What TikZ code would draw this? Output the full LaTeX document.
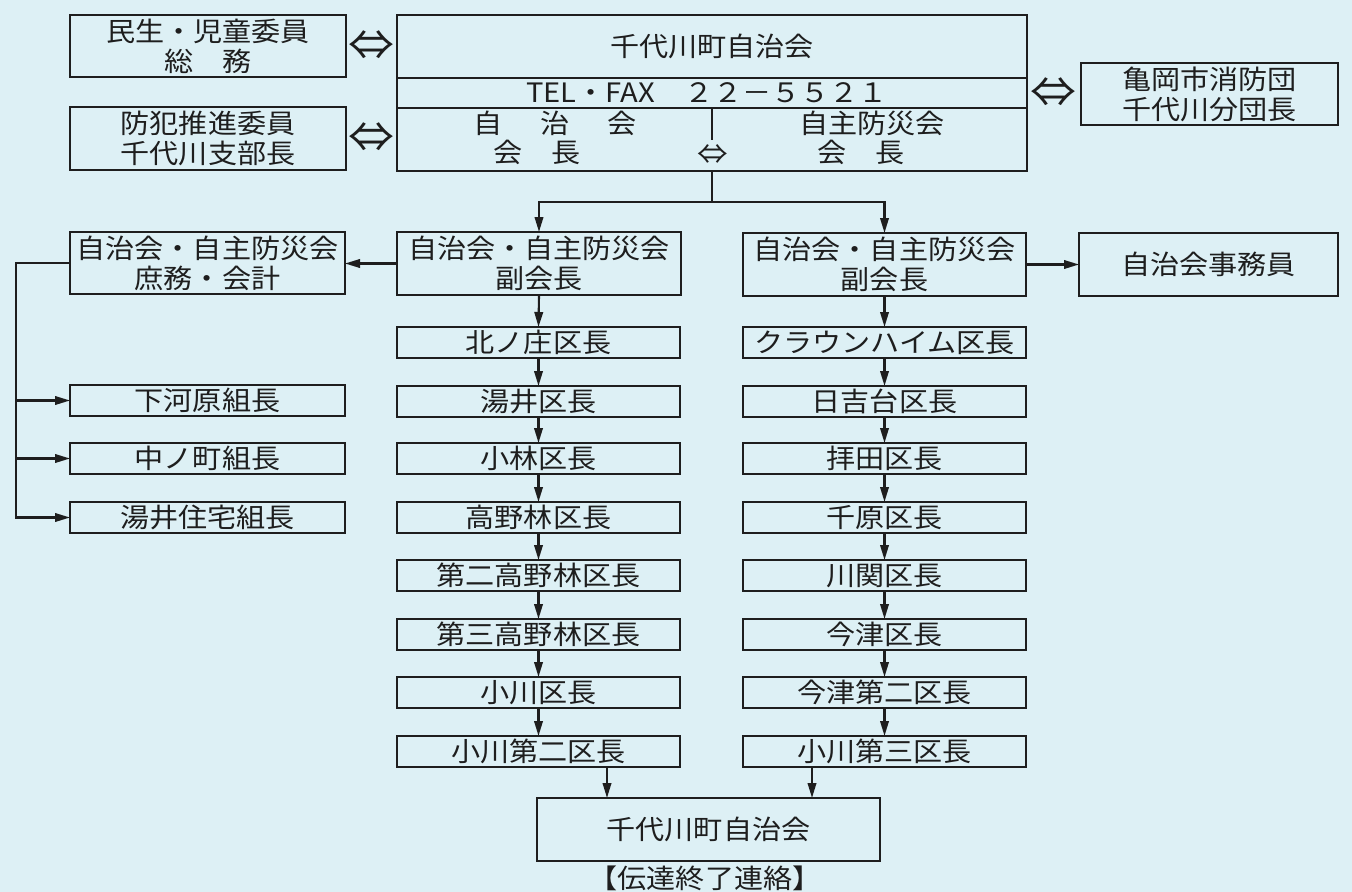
\documentclass[tikz,border=0pt]{standalone}
\usepackage{fontspec}
\setmainfont[FakeStretch=1.09]{Noto Sans CJK JP}
\usetikzlibrary{arrows.meta}
\definecolor{bg}{HTML}{DDF0F5}
\definecolor{ink}{HTML}{1E1E1E}
\newcommand\bxnode[6]{%
 \pgfmathsetmacro\bxcx{(#2+#4)/2}%
 \pgfmathsetmacro\bxcy{(#3+#5)/2}%
 \pgfmathsetmacro\bxw{(#4-#2)*0.02}%
 \pgfmathsetmacro\bxh{(#5-#3)*0.02}%
 \node[bx,minimum width=\bxw cm,minimum height=\bxh cm] (#1) at (\bxcx,\bxcy) {#6};}
\begin{document}
\begin{tikzpicture}[x=0.02cm,y=-0.02cm,
  bx/.style={draw=ink,line width=1.3pt,inner sep=0pt,outer sep=0pt,align=center,text=ink,font=\fontsize{15.2}{17}\selectfont},
  ln/.style={draw=ink,line width=1.2pt},
  arr/.style={ln,-{Triangle[length=3mm,width=1.7mm]}},
  dbl/.style={text=ink,font=\fontsize{24}{24}\selectfont,inner sep=0pt},
  lbl/.style={text=ink,font=\fontsize{15.2}{17}\selectfont,inner sep=0pt}]
\fill[bg] (0,0) rectangle (1352,892);
\useasboundingbox (0,0) rectangle (1352,892);
% top row
\bxnode{A}{70}{15}{346}{77}{民生・児童委員\\総　務}
\bxnode{B}{70}{107}{346}{170}{防犯推進委員\\千代川支部長}
\bxnode{M}{397}{15}{1027}{171}{}
\bxnode{C}{1081}{63}{1338}{125}{亀岡市消防団\\千代川分団長}
\coordinate (m1) at (0,78);
\coordinate (m2) at (0,108);
\draw[ln,line width=1.3pt] (M.west |- m1) -- (M.east |- m1);
\draw[ln,line width=1.3pt] (M.west |- m2) -- (M.east |- m2);
\node[lbl] (mt) at (712,46) {千代川町自治会};
\node[lbl] (mtel) at (707,93) {TEL・FAX　２２－５５２１};
\node[lbl] (ml1) at (555,123) {自\hspace{0.76cm}治\hspace{0.76cm}会};
\node[lbl] (ml2) at (537,152) {会　長};
\node[lbl] (mr1) at (872,123) {自主防災会};
\node[lbl] (mr2) at (861,152) {会　長};
\node[dbl,font=\fontsize{16}{16}\selectfont] (md) at (713,155) {⇔};
\coordinate (mv) at (712,108);
\draw[ln] (mv) -- ++(0,32);
\node[dbl] (dA) at (371,46) {⇔};
\node[dbl] (dB) at (371,138) {⇔};
\node[dbl] (dC) at (1053,93) {⇔};
% second level
\bxnode{D}{70}{232}{345}{294}{自治会・自主防災会\\庶務・会計}
\bxnode{E}{397}{232}{681}{295}{自治会・自主防災会\\副会長}
\bxnode{F}{743}{233}{1026}{296}{自治会・自主防災会\\副会長}
\bxnode{G}{1079}{233}{1338}{296}{自治会事務員}
% left column
\bxnode{L1}{397}{327}{680}{358}{北ノ庄区長}
\bxnode{L2}{397}{386}{680}{417}{湯井区長}
\bxnode{L3}{397}{443}{680}{474}{小林区長}
\bxnode{L4}{397}{502}{680}{533}{高野林区長}
\bxnode{L5}{397}{560}{680}{591}{第二高野林区長}
\bxnode{L6}{397}{619}{680}{650}{第三高野林区長}
\bxnode{L7}{397}{677}{680}{708}{小川区長}
\bxnode{L8}{397}{736}{680}{767}{小川第二区長}
% right column
\bxnode{R1}{743}{327}{1026}{358}{クラウンハイム区長}
\bxnode{R2}{743}{386}{1026}{417}{日吉台区長}
\bxnode{R3}{743}{443}{1026}{474}{拝田区長}
\bxnode{R4}{743}{502}{1026}{533}{千原区長}
\bxnode{R5}{743}{560}{1026}{591}{川関区長}
\bxnode{R6}{743}{619}{1026}{650}{今津区長}
\bxnode{R7}{743}{677}{1026}{708}{今津第二区長}
\bxnode{R8}{743}{736}{1026}{767}{小川第三区長}
% left small boxes
\bxnode{K1}{70}{385}{345}{416}{下河原組長}
\bxnode{K2}{70}{443}{345}{474}{中ノ町組長}
\bxnode{K3}{70}{502}{345}{533}{湯井住宅組長}
% bottom
\bxnode{Z}{537}{798}{880}{861}{千代川町自治会}
\node[lbl] (cap) at (705,878) {【伝達終了連絡】};
% connectors
\coordinate (sp) at (712,202);
\draw[ln] (M.south) -- (sp);
\draw[arr] (sp) -| (E.north);
\draw[arr] (sp) -| (F.north);
\draw[arr] (E.west) -- (E.west -| D.east);
\draw[arr] (F.east) -- (F.east -| G.west);
\coordinate (lt) at (16,263);
\draw[arr] (D.west) -- (D.west -| lt) |- (K3.west);
\draw[arr] (lt |- K1.west) -- (K1.west);
\draw[arr] (lt |- K2.west) -- (K2.west);
\foreach \a/\b in {E/L1,L1/L2,L2/L3,L3/L4,L4/L5,L5/L6,L6/L7,L7/L8,F/R1,R1/R2,R2/R3,R3/R4,R4/R5,R5/R6,R6/R7,R7/R8}
  \draw[arr] (\a.south) -- (\b.north);
\coordinate (za) at (607,798);
\coordinate (zb) at (812,798);
\draw[arr] (L8.south -| za) -- (za);
\draw[arr] (R8.south -| zb) -- (zb);
\end{tikzpicture}
\end{document}
